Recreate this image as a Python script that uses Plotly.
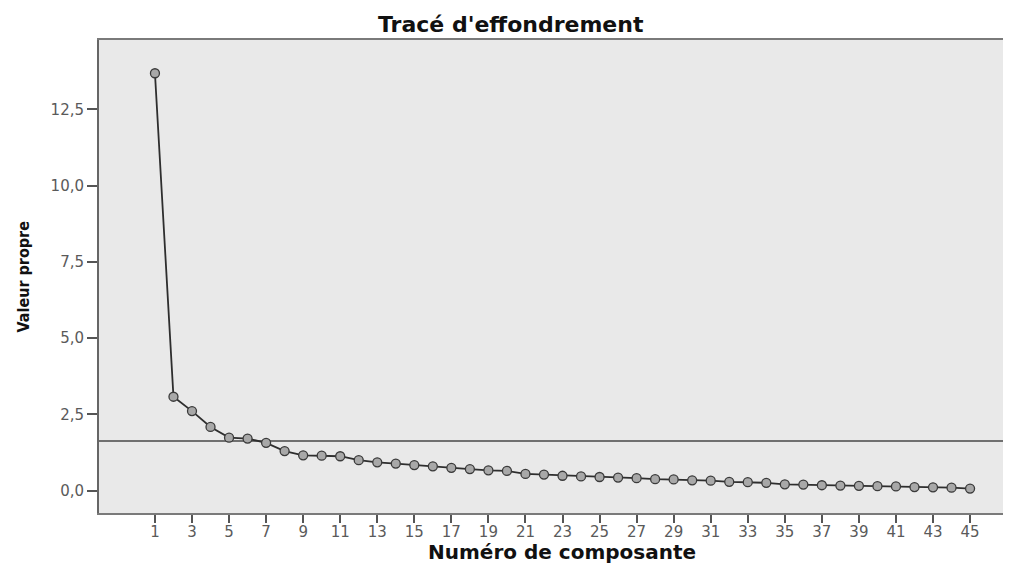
import plotly.graph_objects as go

# Data
components = list(range(1, 46))
eigenvalues = [13.68, 3.08, 2.61, 2.09, 1.74, 1.71, 1.57, 1.30, 1.16, 1.15,
               1.13, 1.00, 0.93, 0.89, 0.84, 0.80, 0.75, 0.71, 0.67, 0.65,
               0.55, 0.53, 0.49, 0.47, 0.45, 0.43, 0.41, 0.38, 0.37, 0.34,
               0.33, 0.29, 0.28, 0.26, 0.21, 0.20, 0.18, 0.17, 0.16, 0.15,
               0.14, 0.12, 0.11, 0.10, 0.07]
reference_value = 1.63

x_tickvals = list(range(1, 46, 2))
x_ticktext = [str(v) for v in x_tickvals]
y_tickvals = [0.0, 2.5, 5.0, 7.5, 10.0, 12.5]
y_ticktext = ["0,0", "2,5", "5,0", "7,5", "10,0", "12,5"]

title_text = "Tracé d'effondrement"
x_title = "Numéro de composante"
y_title = "Valeur propre"

fig = go.Figure()
fig.add_trace(go.Scatter(
    x=components, y=eigenvalues, mode="lines+markers",
    line=dict(color="#2e2e2e", width=1.8),
    marker=dict(symbol="circle", size=9, color="#a8a8a8",
                line=dict(color="#3a3a3a", width=1.3)),
    showlegend=False, hoverinfo="x+y",
))

fig.add_shape(type="line", xref="paper", x0=0, x1=1, yref="y",
              y0=reference_value, y1=reference_value,
              line=dict(color="#707070", width=2), layer="below")

tick_font = dict(family="DejaVu Sans", size=15, color="#5a5a5a")

# the page body has an 8px default margin, so the figure is offset by 8px
fig.update_layout(
    width=1003, height=557,
    margin=dict(l=91, r=0, t=32, b=52),
    paper_bgcolor="white", plot_bgcolor="#e9e9e9",
    xaxis=dict(range=[-2.02, 47.21], tickvals=x_tickvals, ticktext=x_ticktext,
               ticks="outside", ticklen=8, tickwidth=1.5, tickcolor="#555555",
               ticklabelstandoff=-4,
               showgrid=False, zeroline=False, showline=True, mirror=True,
               linecolor="#7a7a7a", linewidth=2, tickfont=tick_font),
    yaxis=dict(range=[-0.73, 14.77], tickvals=y_tickvals, ticktext=y_ticktext,
               ticks="outside", ticklen=10, tickwidth=1.5, tickcolor="#555555",
               showgrid=False, zeroline=False, showline=True,
               linecolor="#666666", linewidth=2, tickfont=tick_font),
    annotations=[
        dict(text=f"<b>{title_text}</b>", xref="paper", yref="paper",
             x=0.4518, y=1.003, xanchor="center", yanchor="bottom",
             showarrow=False,
             font=dict(family="DejaVu Sans", size=22, color="#111111")),
        dict(text=f"<b>{x_title}</b>", xref="paper", yref="paper",
             x=0.5077, y=-0.1099, xanchor="center", yanchor="bottom",
             showarrow=False, borderpad=0,
             font=dict(family="DejaVu Sans", size=20, color="#111111")),
        dict(text=f"<b>{y_title}</b>", xref="paper", yref="paper",
             x=-0.0833, y=0.5, xanchor="center", yanchor="middle",
             textangle=-90, showarrow=False,
             font=dict(family="DejaVu Sans Condensed, Liberation Sans Narrow, DejaVu Sans",
                       size=16, color="#111111")),
    ],
)

fig.write_html("out.html")
